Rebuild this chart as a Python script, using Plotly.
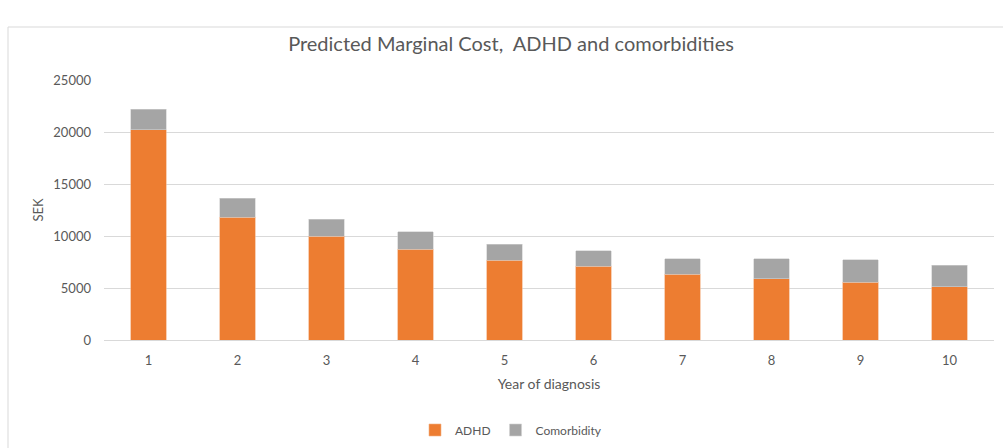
import plotly.graph_objects as go

years = ["1", "2", "3", "4", "5", "6", "7", "8", "9", "10"]
adhd = [20200, 11800, 9970, 8750, 7690, 7080, 6310, 5870, 5550, 5100]
comorbidity = [2000, 1830, 1660, 1670, 1510, 1510, 1510, 1950, 2150, 2110]
y_ticks = [0, 5000, 10000, 15000, 20000, 25000]

font_family = "Lato, 'Open Sans', sans-serif"
text_color = "#595959"

fig = go.Figure()
fig.add_trace(go.Bar(x=years, y=adhd, name="ADHD",
                     marker=dict(color="#ED7D31", line=dict(color="#F4B183", width=0.6))))
fig.add_trace(go.Bar(x=years, y=comorbidity, name="Comorbidity",
                     marker=dict(color="#A5A5A5", line=dict(color="#D0D0D0", width=0.6))))

# outer chart frame
fig.add_shape(type="rect", xref="paper", yref="paper",
              x0=(8 - 104) / 890, x1=(1010 - 104) / 890,
              y0=(340 - 460) / 260, y1=(340 - 27) / 260,
              line=dict(color="#D9D9D9", width=1), fillcolor="rgba(0,0,0,0)", layer="below")

fig.update_layout(
    width=1003, height=448,
    barmode="stack", bargap=0.6,
    paper_bgcolor="white", plot_bgcolor="white",
    margin=dict(l=104, r=9, t=80, b=108, autoexpand=False),
    font=dict(family=font_family, color=text_color, size=13),
    title=dict(text="Predicted Marginal Cost,  ADHD and comorbidities",
               x=511 / 1003, xanchor="center", y=1 - 44 / 448, yanchor="middle",
               font=dict(size=20, color=text_color, family=font_family)),
    xaxis=dict(title=dict(text="Year of diagnosis", font=dict(size=14), standoff=12),
               showgrid=False, showline=True, linecolor="#D9D9D9", linewidth=1,
               ticks="", ticklabelstandoff=8, tickfont=dict(size=13), automargin=False),
    yaxis=dict(title=dict(text="SEK", font=dict(size=13), standoff=6),
               range=[0, 25000], tickvals=y_ticks, ticktext=[str(v) for v in y_ticks],
               showgrid=True, gridcolor="#D9D9D9", gridwidth=1, zeroline=False,
               showline=False, ticks="", ticklabelstandoff=12, tickfont=dict(size=13),
               automargin=False),
    legend=dict(orientation="h", x=(511 - 104) / 890, xanchor="center",
                y=(340 - 430) / 260, yanchor="middle", traceorder="normal",
                font=dict(size=12), itemwidth=30),
    showlegend=True,
)

fig.write_html("out.html")
